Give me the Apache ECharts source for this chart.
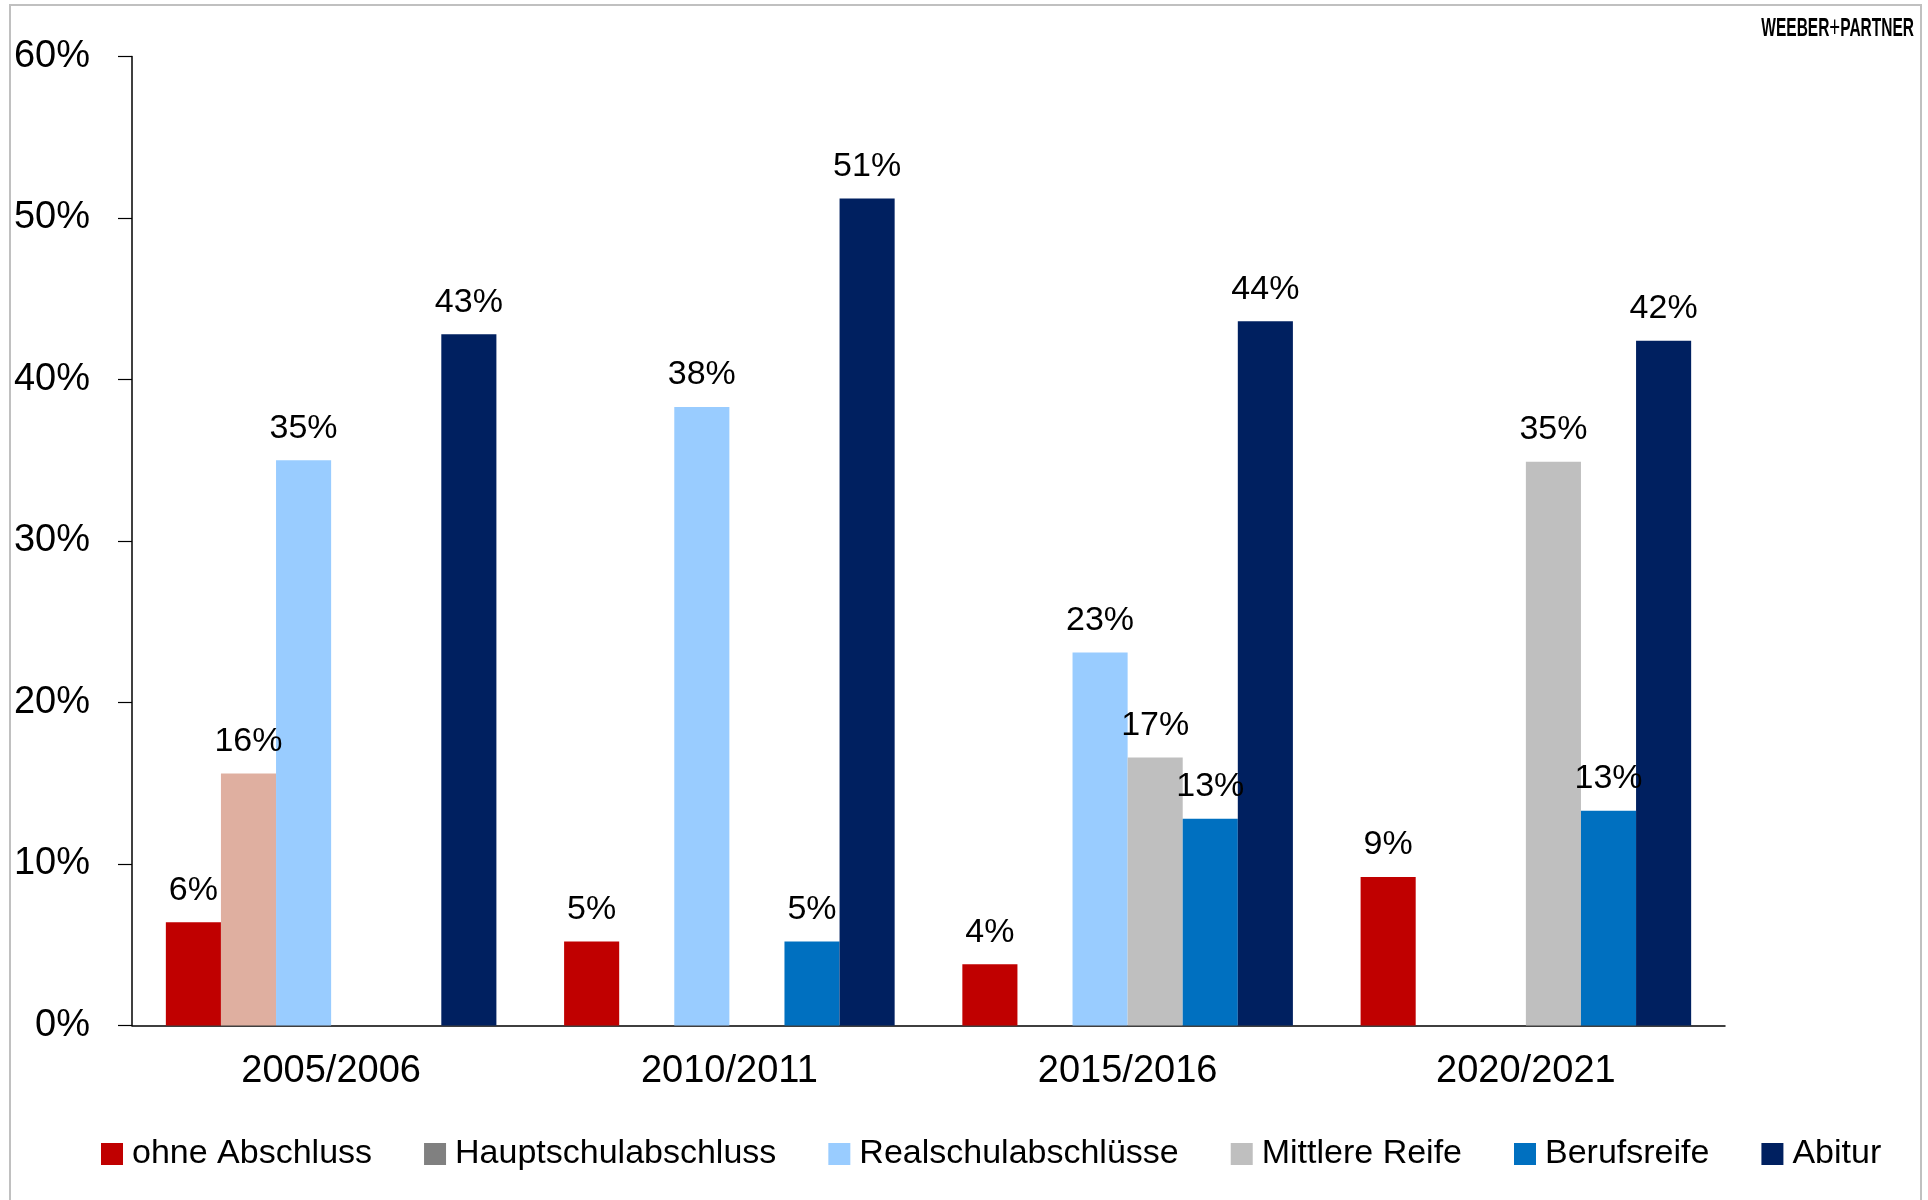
<!DOCTYPE html>
<html>
<head>
<meta charset="utf-8">
<script src="https://cdn.jsdelivr.net/npm/echarts@6/dist/echarts.min.js"></script>
<style>
  html, body { margin: 0; padding: 0; background: #ffffff; }
  #chart { width: 1928px; height: 1200px; }
</style>
</head>
<body>
<div id="chart"></div>
<script>
// School-leaving qualifications by school year (share in %)
const years = ['2005/2006', '2010/2011', '2015/2016', '2020/2021'];
const seriesNames = ['ohne Abschluss', 'Hauptschulabschluss', 'Realschulabschlüsse', 'Mittlere Reife', 'Berufsreife', 'Abitur'];
const ohneAbschluss = [6.4, 5.2, 3.8, 9.2];
const hauptschulabschluss = [15.6, null, null, null];
const realschulabschluesse = [35.0, 38.3, 23.1, null];
const mittlereReife = [null, null, 16.6, 34.9];
const berufsreife = [null, 5.2, 12.8, 13.3];
const abitur = [42.8, 51.2, 43.6, 42.4];
const yTicks = [0, 10, 20, 30, 40, 50, 60];

const colors = ['#C00000', '#808080', '#99CCFF', '#BFBFBF', '#0070C0', '#002060'];
const font = "'Liberation Sans', Arial, sans-serif";

function barSeries(name, values, color, overrides) {
  return {
    name: name,
    type: 'bar',
    barGap: '0%',
    barCategoryGap: '17%',
    itemStyle: { color: color },
    data: values.map((v, i) => {
      if (v === null) return '-';
      const item = { value: v };
      if (overrides && overrides[i]) item.itemStyle = { color: overrides[i] };
      return item;
    }),
    label: {
      show: true,
      position: 'top',
      distance: 15,
      fontFamily: font,
      fontSize: 34,
      color: '#000000',
      formatter: p => Math.round(p.value) + '%'
    }
  };
}

const chart = echarts.init(document.getElementById('chart'), null, { renderer: 'canvas' });
chart.setOption({
  animation: false,
  backgroundColor: '#ffffff',
  color: colors,
  grid: { left: 132, right: 203, top: 56.5, bottom: 174.5, containLabel: false },
  legend: {
    left: 96,
    top: 1132,
    itemWidth: 22,
    itemHeight: 22,
    itemGap: 52,
    icon: 'rect',
    data: seriesNames,
    textStyle: { fontFamily: font, fontSize: 34, color: '#000000', padding: [0, 0, 0, 4] }
  },
  xAxis: {
    type: 'category',
    data: years,
    axisLine: { lineStyle: { color: '#000000', width: 1.5 } },
    axisTick: { show: false },
    axisLabel: { fontFamily: font, fontSize: 38, color: '#000000', margin: 27 }
  },
  yAxis: {
    type: 'value',
    min: yTicks[0],
    max: yTicks[yTicks.length - 1],
    interval: 10,
    splitLine: { show: false },
    axisLine: { show: true, lineStyle: { color: '#000000', width: 1.5 } },
    axisTick: { show: true, inside: false, length: 14, lineStyle: { color: '#000000', width: 1.2 } },
    axisLabel: { fontFamily: font, fontSize: 38, color: '#000000', margin: 42, formatter: '{value}%' }
  },
  series: [
    barSeries(seriesNames[0], ohneAbschluss, colors[0]),
    barSeries(seriesNames[1], hauptschulabschluss, colors[1], ['#DFAFA0']),
    barSeries(seriesNames[2], realschulabschluesse, colors[2]),
    barSeries(seriesNames[3], mittlereReife, colors[3]),
    barSeries(seriesNames[4], berufsreife, colors[4]),
    barSeries(seriesNames[5], abitur, colors[5])
  ],
  graphic: [
    {
      type: 'rect',
      silent: true,
      shape: { x: 10, y: 5, width: 1911, height: 1210 },
      style: { fill: 'none', stroke: '#C0C0C0', lineWidth: 2 }
    },
    {
      // company logo, condensed horizontally
      type: 'text',
      silent: true,
      x: 1914,
      y: 14,
      scaleX: 0.62,
      style: {
        text: '{b|WEEBER}{p|+}{b|PARTNER}',
        align: 'right',
        verticalAlign: 'top',
        rich: {
          b: { fontFamily: font, fontWeight: 'bold', fontSize: 25, fill: '#000000' },
          p: { fontFamily: font, fontWeight: 'normal', fontSize: 30, fill: '#000000' }
        }
      }
    }
  ]
});
</script>
</body>
</html>
